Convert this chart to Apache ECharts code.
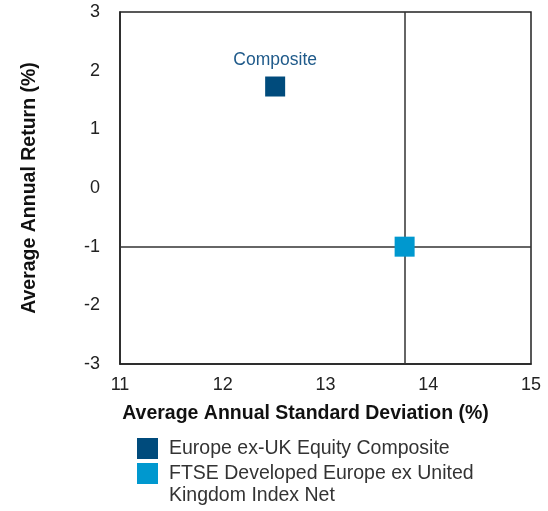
<!DOCTYPE html>
<html>
<head>
<meta charset="utf-8">
<script src="https://cdn.jsdelivr.net/npm/echarts@6/dist/echarts.min.js"></script>
<style>
  html, body { margin: 0; padding: 0; background: #fff; }
  #chart { width: 548px; height: 511px; }
</style>
</head>
<body>
<div id="chart"></div>
<script>
// risk / return values (std dev %, return %)
const seriesNames = ["Europe ex-UK Equity Composite", "FTSE Developed Europe ex United Kingdom Index Net"];
const compositePoint = [12.51, 1.73];
const benchmarkPoint = [13.77, -1.0];
const xTicks = [11, 12, 13, 14, 15];
const yTicks = [-3, -2, -1, 0, 1, 2, 3];

const colors = ["#004b7c", "#0098cf"];
const font = "'Liberation Sans', Arial, sans-serif";
const legendText = { color: "#333", fontSize: 19.5, fontFamily: font };

// one legend per series so they stack vertically; long name wraps (second line drawn below)
function legendFor(i, top) {
  return {
    left: 132,
    top: top,
    icon: "rect",
    itemWidth: 21,
    itemHeight: 21,
    selectedMode: false,
    textStyle: Object.assign({ padding: [0, 0, 0, 6] }, legendText),
    formatter: (name) => name === seriesNames[1] ? "FTSE Developed Europe ex United" : name,
    data: [seriesNames[i]]
  };
}

let chart = echarts.init(document.getElementById("chart"));
let option = {
  color: colors,
  animation: false,
  grid: { left: 120, right: 17, top: 12, bottom: 147, show: true, borderColor: "#222", borderWidth: 1.5 },
  xAxis: {
    type: "value",
    min: xTicks[0],
    max: xTicks[xTicks.length - 1],
    interval: 1,
    name: "Average Annual Standard Deviation (%)",
    nameLocation: "middle",
    nameGap: 40,
    nameTextStyle: { color: "#111", fontSize: 19.5, fontWeight: "bold", fontFamily: font, padding: [0, 40, 0, 0] },
    axisLine: { show: true, onZero: false, lineStyle: { color: "#222", width: 1.5 } },
    axisTick: { show: false },
    splitLine: { show: false },
    axisLabel: { color: "#222", fontSize: 18, margin: 12, fontFamily: font }
  },
  yAxis: {
    type: "value",
    min: yTicks[0],
    max: yTicks[yTicks.length - 1],
    interval: 1,
    name: "Average Annual Return (%)",
    nameLocation: "middle",
    nameGap: 80,
    nameRotate: 90,
    nameTextStyle: { color: "#111", fontSize: 19.5, fontWeight: "bold", fontFamily: font },
    axisLine: { show: true, onZero: false, lineStyle: { color: "#222", width: 1.5 } },
    axisTick: { show: false },
    splitLine: { show: false },
    axisLabel: { color: "#222", fontSize: 18, margin: 20, fontFamily: font }
  },
  legend: [legendFor(0, 433), legendFor(1, 458)],
  graphic: [
    {
      type: "text",
      left: 169,
      top: 486,
      style: { text: "Kingdom Index Net", fill: legendText.color, font: "19.5px " + font }
    }
  ],
  series: [
    {
      name: seriesNames[0],
      type: "scatter",
      symbol: "rect",
      symbolSize: 20,
      z: 5,
      itemStyle: { opacity: 1 },
      data: [compositePoint],
      label: {
        show: true,
        position: "top",
        distance: 7,
        formatter: "Composite",
        color: "#1f5a8a",
        fontSize: 17.5,
        fontFamily: font
      }
    },
    {
      name: seriesNames[1],
      type: "scatter",
      symbol: "rect",
      symbolSize: 20,
      z: 5,
      itemStyle: { opacity: 1 },
      data: [benchmarkPoint],
      markLine: {
        silent: true,
        symbol: "none",
        label: { show: false },
        lineStyle: { color: "#333", width: 1.5, type: "solid" },
        data: [{ xAxis: benchmarkPoint[0] }, { yAxis: benchmarkPoint[1] }]
      }
    }
  ]
};
chart.setOption(option);
</script>
</body>
</html>
